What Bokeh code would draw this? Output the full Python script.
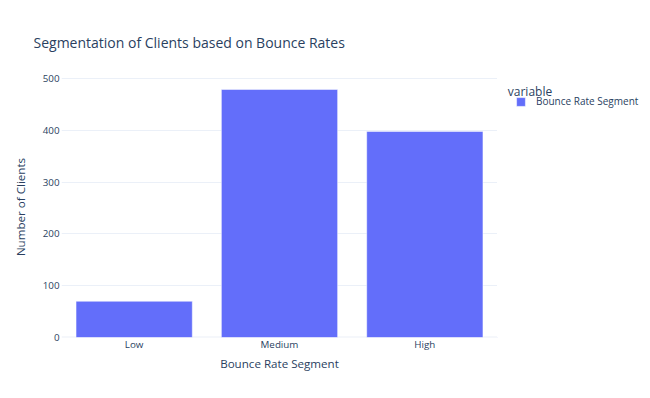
from bokeh.plotting import figure
from bokeh.layouts import row
from bokeh.models import (ColumnDataSource, FactorRange, Range1d, Legend, LegendItem,
                          Label, Span)
from bokeh.embed import file_html
from bokeh.resources import INLINE

segments = ["Low", "Medium", "High"]
clients = [70, 479, 398]
y_ticks = [0, 100, 200, 300, 400, 500]
series_name = "Bounce Rate Segment"
legend_heading = "variable"

FONT = "Open Sans"
TEXT = "#2a3f5f"
BAR = "#636efa"
GRID = "#ebf0f8"

src = ColumnDataSource(dict(seg=segments, n=clients))

p = figure(width=497, height=382,
           x_range=FactorRange(factors=segments),
           y_range=Range1d(0, 504),
           output_backend="svg", toolbar_location=None,
           min_border_left=61, min_border_right=0,
           min_border_top=76, min_border_bottom=45,
           background_fill_color="white", border_fill_color="white",
           outline_line_color=None)

p.title.text = "Segmentation of Clients based on Bounce Rates"
p.title.text_font = FONT
p.title.text_font_size = "14px"
p.title.text_font_style = "normal"
p.title.text_color = TEXT
p.title.align = "left"
p.title.offset = -28
p.title.standoff = 50

zero = Span(location=0, dimension="width", line_color=GRID, line_width=2, level="underlay")
p.add_layout(zero)

r = p.vbar(x="seg", top="n", width=0.8, source=src,
           fill_color=BAR, line_color="white", line_width=0.5)

p.xgrid.grid_line_color = None
p.ygrid.grid_line_color = GRID
p.ygrid.grid_line_width = 1
p.yaxis.ticker = y_ticks

for ax in (p.xaxis[0], p.yaxis[0]):
    ax.axis_line_color = None
    ax.major_tick_line_color = None
    ax.minor_tick_line_color = None
    ax.major_tick_out = 0
    ax.major_tick_in = 0
    ax.minor_tick_out = 0
    ax.minor_tick_in = 0
    ax.major_label_text_font = FONT
    ax.major_label_text_font_size = "9.8px"
    ax.major_label_text_color = TEXT
    ax.axis_label_text_font = FONT
    ax.axis_label_text_font_size = "11.6px"
    ax.axis_label_text_font_style = "normal"
    ax.axis_label_text_color = TEXT

p.yaxis.axis_label = "Number of Clients"
p.yaxis.major_label_standoff = 2
p.yaxis.axis_label_standoff = 12
p.xaxis.axis_label = "Bounce Rate Segment"
p.xaxis.major_label_standoff = 0
p.xaxis.axis_label_standoff = 2

# legend area to the right of the plot area (its frame is aligned with the plot's)
lg = figure(width=145, height=382, x_range=Range1d(0, 145), y_range=Range1d(0, 261),
            output_backend="svg", toolbar_location=None,
            min_border_left=0, min_border_right=0, min_border_top=0, min_border_bottom=0,
            outline_line_color=None, background_fill_color="white",
            border_fill_color="white")
lg.axis.visible = False
lg.grid.visible = False
# legend key: same style as the bars, its single point lies outside the visible area
key = lg.vbar(x=[-1000], top=[-1000], bottom=[-1001], width=1,
              fill_color=BAR, line_color="white", line_width=0.5)

legend = Legend(items=[LegendItem(label=series_name, renderers=[key])],
                location=(18, 229), padding=0, margin=0, spacing=0,
                border_line_color=None, background_fill_alpha=0,
                glyph_width=11, glyph_height=11, label_standoff=10,
                label_text_font=FONT, label_text_font_size="10px",
                label_text_color=TEXT)
lg.add_layout(legend, "center")

legend_title = Label(x=10.3, y=246.3, text=legend_heading, text_font=FONT,
                     text_font_size="12px", text_color=TEXT,
                     text_baseline="alphabetic")
lg.add_layout(legend_title)

layout = row(p, lg)
open("out.html", "w").write(file_html(layout, INLINE))
